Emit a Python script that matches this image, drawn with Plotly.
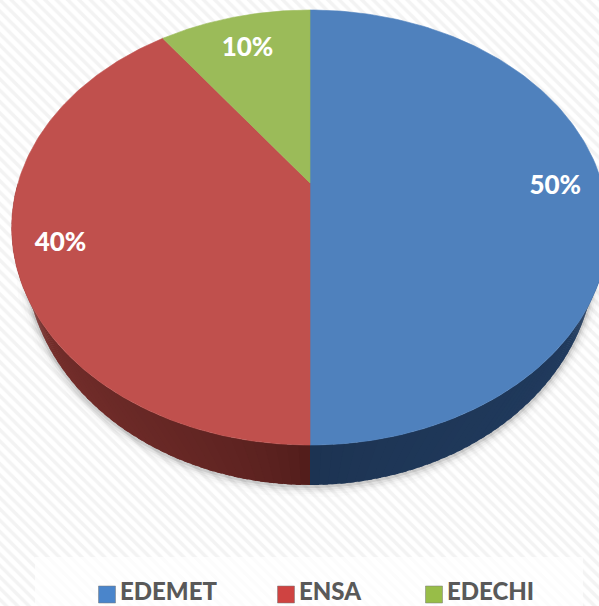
import math
import plotly.graph_objects as go

categories = ["EDEMET", "ENSA", "EDECHI"]
values = [50, 40, 10]
colors = ["#4f81bd", "#c0504d", "#9bbb59"]
legend_colors = ["#4a85cb", "#cf4341", "#98bd48"]
label_r = [0.84, 0.85, 0.80]
legend_x = [98, 277, 425]

# wall colours: (near the front, near the rim)
wall_front = {0: (28, 50, 80), 1: (78, 27, 25)}
wall_rim = {0: (33, 60, 96), 1: (124, 50, 47)}

CX, CY, BX, BY, P = 310.0, 183.0, 292.0, 208.4, -0.2046
LX, LY, LRX, LRY = 310.0, 255.0, 285.0, 230.0


def project(theta, r=1.0):
    x, y = r * math.sin(theta), -r * math.cos(theta)
    d = 1 + P * y
    return CX + BX * x / d, CY + BY * y / d


def lower(theta):
    return LX + LRX * math.sin(theta), LY - LRY * math.cos(theta)


total = sum(values)
edges = [0.0]
for v in values:
    edges.append(edges[-1] + v / total * 2 * math.pi)

fig = go.Figure()


def poly(xs, ys, color, lw=0.6):
    fig.add_trace(go.Scatter(x=xs, y=ys, mode="lines", fill="toself", fillcolor=color,
                             line=dict(width=lw, color=color), hoverinfo="skip",
                             showlegend=False))


# background
fig.add_trace(go.Scatter(x=[0, 599, 599, 0, 0], y=[0, 0, 606, 606, 0], mode="lines", fill="toself",
                         line=dict(width=0), hoverinfo="skip", showlegend=False,
                         fillpattern=dict(shape="\\", size=8, solidity=0.42,
                                          fgcolor="#f3f3f3", bgcolor="#ffffff", fillmode="replace")))
# legend panel
poly([35, 583, 583, 35, 35], [557, 557, 606, 606, 557], "rgba(255,255,255,0.72)", lw=0)

# soft shadow under the wall
ts = [math.pi / 2 * 0.75 + i / 120 * math.pi * 1.25 for i in range(121)]
for w, off, op in [(22, 2, 0.012), (16, 2, 0.018), (11, 2, 0.03), (7, 2, 0.05), (4, 1, 0.09)]:
    pts = [lower(t) for t in ts]
    fig.add_trace(go.Scatter(x=[p[0] for p in pts], y=[p[1] + off for p in pts], mode="lines",
                             line=dict(width=w, color=f"rgba(0,0,0,{op})"),
                             hoverinfo="skip", showlegend=False))

# wall, split at the same slice edges as the top; strips overlap so no seams show
N = 50
for i in range(len(values)):
    a = max(edges[i], math.pi / 2)
    b = min(edges[i + 1], 3 * math.pi / 2)
    if a >= b:
        continue
    for k in range(N):
        t0 = a + (b - a) * k / N
        t1 = a + (b - a) * (k + 1.6) / N
        t1 = min(t1, b)
        f = min(1.0, abs((2 * k + 1) / (2 * N) * (b - a) + a - math.pi) / (math.pi / 2)) ** 0.5
        c = tuple(round(u + (v - u) * f) for u, v in zip(wall_front[i], wall_rim[i]))
        p0, p1, q1, q0 = project(t0), project(t1), lower(t1), lower(t0)
        poly([p0[0], p1[0], q1[0], q0[0], p0[0]], [p0[1], p1[1], q1[1], q0[1], p0[1]],
             f"rgb({c[0]},{c[1]},{c[2]})", lw=0)

# top surface
for i in range(len(values)):
    n = 160
    pts = [(CX, CY)] + [project(edges[i] + (edges[i + 1] - edges[i]) * k / n) for k in range(n + 1)] + [(CX, CY)]
    poly([p[0] for p in pts], [p[1] for p in pts], colors[i])

# data labels
lx, ly, lt = [], [], []
for i, v in enumerate(values):
    x, y = project((edges[i] + edges[i + 1]) / 2, label_r[i])
    lx.append(x)
    ly.append(y + 4)
    lt.append(f"{v}%")
fig.add_trace(go.Scatter(x=lx, y=ly, mode="text", text=lt, textposition="middle center",
                         textfont=dict(family="Lato", size=26, color="#ffffff", weight=900),
                         hoverinfo="skip", showlegend=False))

# legend
fig.add_trace(go.Scatter(x=[x + 9 for x in legend_x], y=[594.5] * 3, mode="markers",
                         marker=dict(symbol="square", size=17, color=legend_colors,
                                     line=dict(width=1, color="rgba(120,120,120,0.5)")),
                         hoverinfo="skip", showlegend=False))
fig.add_trace(go.Scatter(x=[x + 22 for x in legend_x], y=[594] * 3, mode="text", text=categories,
                         textposition="middle right",
                         textfont=dict(family="Lato", size=24, color="#595959", weight=900),
                         hoverinfo="skip", showlegend=False, cliponaxis=False))

axis = dict(visible=False, fixedrange=True)
fig.update_layout(width=599, height=606, margin=dict(l=0, r=0, t=0, b=0),
                  paper_bgcolor="#ffffff", plot_bgcolor="#ffffff", showlegend=False,
                  xaxis=dict(range=[0, 599], **axis),
                  yaxis=dict(range=[606, 0], **axis))
fig.write_html("out.html", config={"displayModeBar": False},
               post_script="document.body.style.margin='0';document.body.style.overflow='hidden';")
